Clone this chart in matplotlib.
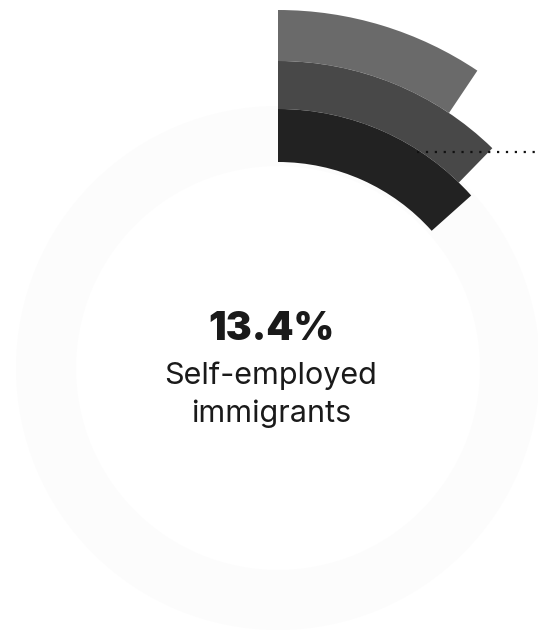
import matplotlib

matplotlib.use("Agg")
import matplotlib.pyplot as plt
from matplotlib.patches import Wedge

# 数据：三段径向条（外→内），单位 %
ring_names = ["outer", "middle", "inner"]
ring_values = [9.4, 12.3, 13.4]
ring_colors = ["#6a6a6a", "#484848", "#222222"]

headline_value = 13.4
headline_label = ["Self-employed", "immigrants"]

# 画布按像素坐标排布（538x636）
W, H = 538, 636
CX, CY = 278, H - 368
RING_EDGES = [358, 307, 259, 206]  # 外半径 → 内半径

fig = plt.figure(figsize=(W / 100, H / 100), dpi=100)
ax = fig.add_axes([0, 0, 1, 1])
ax.set_xlim(0, W)
ax.set_ylim(0, H)
ax.set_aspect("equal")
ax.axis("off")

# 极淡的底圈（原图扫描留下的浅色轨道）
ax.add_patch(
    Wedge((CX, CY), 262, 0, 360, width=60, fc="#fcfcfc", ec="none", zorder=1)
)

for i, (val, col) in enumerate(zip(ring_values, ring_colors)):
    r_out = RING_EDGES[i]
    r_in = RING_EDGES[i + 1]
    sweep = val / 100 * 360
    ax.add_patch(
        Wedge(
            (CX, CY), r_out, 90 - sweep, 90, width=r_out - r_in,
            fc=col, ec="none", zorder=2 + i,
        )
    )

# 点状引线
ax.plot(
    [417, W], [H - 152, H - 152], color="#111111", lw=1.6,
    linestyle=(0, (1, 3)), zorder=6,
)

ax.text(
    271, H - 330, f"{headline_value}%", ha="center", va="center",
    fontsize=28, fontweight="black", family="Inter", color="#1a1a1a",
)
for k, line in enumerate(headline_label):
    ax.text(
        271, H - 376 - 38 * k, line, ha="center", va="center",
        fontsize=22, family="Inter", color="#1a1a1a",
    )

fig.savefig("out.png", dpi=100, facecolor="white")
